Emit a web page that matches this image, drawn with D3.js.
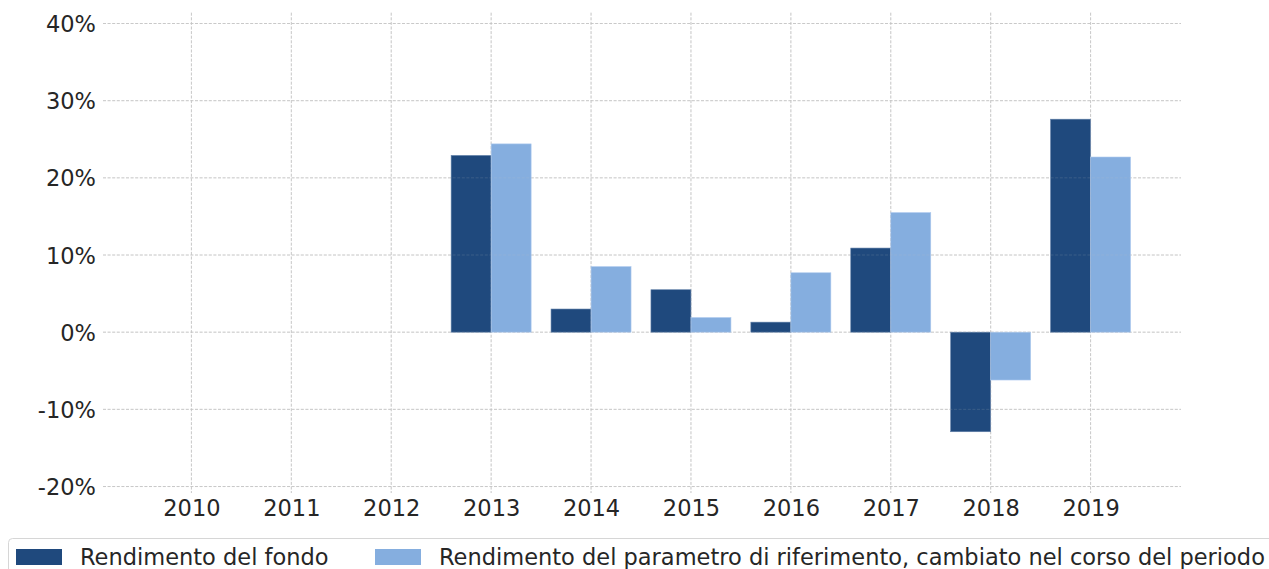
<!DOCTYPE html>
<html>
<head>
<meta charset="utf-8">
<script src="https://cdn.jsdelivr.net/npm/d3@7"></script>
<style>
  body { margin: 0; background: #fff; }
  svg { display: block; font-family: "DejaVu Sans", sans-serif; }
</style>
</head>
<body>
<div id="vis-div"></div>
<script>
'use strict'

// values, in percent
const years = [2010, 2011, 2012, 2013, 2014, 2015, 2016, 2017, 2018, 2019]
const fondo = [null, null, null, 22.9, 3.0, 5.5, 1.3, 10.9, -12.9, 27.6]
const parametro = [null, null, null, 24.4, 8.5, 1.9, 7.7, 15.5, -6.2, 22.7]
const yTicks = [-20, -10, 0, 10, 20, 30, 40]
const seriesNames = ["Rendimento del fondo", "Rendimento del parametro di riferimento, cambiato nel corso del periodo"]
const seriesColors = ["#1f497d", "#85aedf"]

function wrapper(){
	let width = 1269
	let height = 569
	let plot = {left: 103, right: 1181, top: 12.7, bottom: 493}
	let barW = 40

	let svg = d3.select("#vis-div").append("svg")
		.attr("width", width)
		.attr("height", height)

	let x = d3.scaleLinear().domain([2009.115, 2019.905]).range([plot.left, plot.right])
	let y = d3.scaleLinear().domain([-20.84, 41.4]).range([plot.bottom, plot.top])

	// grid
	let grid = svg.append("g").attr("class", "grid")
	grid.selectAll("line.h").data(yTicks).enter().append("line")
		.attr("x1", plot.left).attr("x2", plot.right)
		.attr("y1", d => y(d)).attr("y2", d => y(d))
		.attr("stroke", "#c4c4c4").attr("stroke-width", 0.9)
		.attr("stroke-dasharray", "3,1.6")
	grid.selectAll("line.v").data(years).enter().append("line")
		.attr("x1", d => x(d)).attr("x2", d => x(d))
		.attr("y1", plot.top).attr("y2", plot.bottom)
		.attr("stroke", "#c4c4c4").attr("stroke-width", 0.9)
		.attr("stroke-dasharray", "3,1.6")

	// bars
	let series = [fondo, parametro]
	series.forEach(function(vals, si){
		let rows = years.map((yr, i) => ({yr: yr, v: vals[i]})).filter(d => d.v != null)
		svg.append("g").selectAll("rect").data(rows).enter().append("rect")
			.attr("x", d => x(d.yr) - barW + si * barW)
			.attr("width", barW)
			.attr("y", d => y(Math.max(0, d.v)))
			.attr("height", d => Math.abs(y(d.v) - y(0)))
			.attr("fill", seriesColors[si])
			.attr("stroke", si == 0 ? "#5f7fa8" : "#b0cbee")
			.attr("stroke-width", 0.6)
	})

	// faint grid showing through the bars
	grid.clone(true).attr("opacity", 0.18).raise()

	// y labels
	let yAxis = d3.axisLeft(y).tickValues(yTicks).tickSize(0).tickPadding(7)
		.tickFormat(d => d + "%")
	let yg = svg.append("g").attr("transform", "translate(" + plot.left + ",0)").call(yAxis)
	yg.select(".domain").remove()
	yg.selectAll("text").attr("font-size", 22.5).attr("fill", "#262626")
		.attr("font-family", "DejaVu Sans").attr("dy", "0.36em")

	// x labels
	let xAxis = d3.axisBottom(x).tickValues(years).tickSize(0).tickPadding(7)
		.tickFormat(d3.format("d"))
	let xg = svg.append("g").attr("transform", "translate(0," + plot.bottom + ")").call(xAxis)
	xg.select(".domain").remove()
	xg.selectAll("text").attr("font-size", 22.5).attr("fill", "#262626")
		.attr("font-family", "DejaVu Sans").attr("dy", "0.71em")

	// legend
	let lg = svg.append("g")
	lg.append("rect")
		.attr("x", 8.5).attr("y", 538.5)
		.attr("width", 1300).attr("height", 60)
		.attr("rx", 4)
		.attr("fill", "#fff").attr("stroke", "#d6d6d6").attr("stroke-width", 1)
	let legendX = [16, 375]
	seriesNames.forEach(function(name, i){
		lg.append("rect")
			.attr("x", legendX[i]).attr("y", 549)
			.attr("width", 46).attr("height", 16)
			.attr("fill", seriesColors[i])
		lg.append("text")
			.attr("x", legendX[i] + 64).attr("y", 565)
			.attr("font-size", 22.5).attr("fill", "#262626")
			.text(name)
	})
}

wrapper()
</script>
</body>
</html>
